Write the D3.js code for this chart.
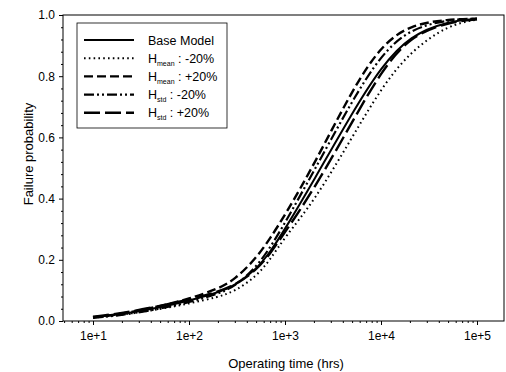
<!DOCTYPE html>
<html>
<head>
<meta charset="utf-8">
<script src="https://cdn.jsdelivr.net/npm/d3@7"></script>
<style>
body { margin: 0; background: #fff; }
svg { display: block; font-family: "Liberation Sans", Arial, sans-serif; }
</style>
</head>
<body>
<svg id="chart"></svg>
<script>
// operating time (hrs) sample points
var times = [10, 20, 50, 100, 200, 300, 500, 700, 1000, 2000, 5000, 10000, 20000, 50000, 100000];

var baseModel  = [0.012, 0.022, 0.044, 0.066, 0.093, 0.115, 0.168, 0.225, 0.300, 0.460, 0.680, 0.830, 0.933, 0.980, 0.986];
var hMeanMinus = [0.011, 0.020, 0.039, 0.057, 0.078, 0.097, 0.145, 0.200, 0.275, 0.390, 0.600, 0.760, 0.880, 0.968, 0.985];
var hMeanPlus  = [0.012, 0.023, 0.048, 0.072, 0.105, 0.135, 0.205, 0.270, 0.346, 0.510, 0.755, 0.900, 0.968, 0.986, 0.988];
var hStdMinus  = [0.010, 0.019, 0.040, 0.061, 0.088, 0.113, 0.175, 0.240, 0.320, 0.490, 0.720, 0.870, 0.955, 0.985, 0.988];
var hStdPlus   = [0.014, 0.025, 0.049, 0.070, 0.095, 0.117, 0.165, 0.220, 0.290, 0.430, 0.650, 0.815, 0.930, 0.977, 0.986];

var xTickValues = [10, 100, 1000, 10000, 100000];
var xTickLabels = ["1e+1", "1e+2", "1e+3", "1e+4", "1e+5"];
var yTickValues = [0, 0.2, 0.4, 0.6, 0.8, 1.0];
var yTickLabels = ["0.0", "0.2", "0.4", "0.6", "0.8", "1.0"];

var series = [
    { name: "Base Model", sub: null, suffix: null, values: baseModel, dash: null, width: 2 },
    { name: "H", sub: "mean", suffix: " : -20%", values: hMeanMinus, dash: "1.6,3.2", width: 2 },
    { name: "H", sub: "mean", suffix: " : +20%", values: hMeanPlus, dash: "9,4", width: 2.4 },
    { name: "H", sub: "std", suffix: " : -20%", values: hStdMinus, dash: "10,3,2,3,2,3", width: 2.2 },
    { name: "H", sub: "std", suffix: " : +20%", values: hStdPlus, dash: "16,5", width: 2.4 }
];

var svg = d3.select("#chart")
    .attr("width", 506)
    .attr("height", 372);

var plotLeft = 63, plotRight = 504, plotTop = 15, plotBottom = 321;

var xScale = d3.scaleLog()
    .domain([Math.pow(10, 0.6875), Math.pow(10, 5.28125)])
    .range([plotLeft, plotRight]);
var yScale = d3.scaleLinear().domain([0, 1]).range([plotBottom, plotTop]);

// frame
svg.append("rect")
    .attr("x", plotLeft).attr("y", plotTop)
    .attr("width", plotRight - plotLeft).attr("height", plotBottom - plotTop)
    .attr("fill", "none").attr("stroke", "#000").attr("stroke-width", 1);

// minor x ticks (log 2..9)
var xMinor = [];
[1, 10, 100, 1000, 10000, 100000].forEach(function(d) {
    for (var k = 2; k <= 9; k++) {
        var v = d * k;
        if (v > xScale.domain()[0] && v < xScale.domain()[1]) xMinor.push(v);
    }
});

var xAxis = svg.append("g")
    .attr("transform", "translate(0," + plotBottom + ")")
    .call(d3.axisBottom(xScale).tickValues(xTickValues)
        .tickFormat(function(d, i) { return xTickLabels[i]; })
        .tickSize(4).tickPadding(6));
xAxis.select(".domain").remove();

svg.append("g")
    .attr("transform", "translate(0," + plotBottom + ")")
    .call(d3.axisBottom(xScale).tickValues(xMinor).tickFormat("").tickSize(2))
    .select(".domain").remove();

var yMinor = d3.range(0, 1.0001, 0.04).filter(function(v) {
    return Math.abs(v * 5 - Math.round(v * 5)) > 1e-6;
});

var yAxis = svg.append("g")
    .attr("transform", "translate(" + plotLeft + ",0)")
    .call(d3.axisLeft(yScale).tickValues(yTickValues)
        .tickFormat(function(d, i) { return yTickLabels[i]; })
        .tickSize(4).tickPadding(4));
yAxis.select(".domain").remove();

svg.append("g")
    .attr("transform", "translate(" + plotLeft + ",0)")
    .call(d3.axisLeft(yScale).tickValues(yMinor).tickFormat("").tickSize(2))
    .select(".domain").remove();

svg.selectAll(".tick text")
    .attr("font-size", 12)
    .attr("font-family", "Liberation Sans, Arial, sans-serif")
    .attr("fill", "#000");
svg.selectAll(".tick line").attr("stroke", "#000");

// axis titles
svg.append("text")
    .attr("x", 286).attr("y", 368)
    .attr("text-anchor", "middle")
    .attr("font-size", 13)
    .text("Operating time (hrs)");

svg.append("text")
    .attr("transform", "translate(33,154) rotate(-90)")
    .attr("text-anchor", "middle")
    .attr("font-size", 13)
    .text("Failure probability");

// curves
var line = d3.line()
    .x(function(d) { return xScale(d[0]); })
    .y(function(d) { return yScale(d[1]); })
    .curve(d3.curveBasis);

series.forEach(function(s) {
    svg.append("path")
        .datum(times.map(function(t, i) { return [t, s.values[i]]; }))
        .attr("d", line)
        .attr("fill", "none")
        .attr("stroke", "#000")
        .attr("stroke-width", s.width)
        .attr("stroke-dasharray", s.dash);
});

// legend
var legend = svg.append("g");
legend.append("rect")
    .attr("x", 77).attr("y", 23)
    .attr("width", 150).attr("height", 105)
    .attr("fill", "#fff").attr("stroke", "#000").attr("stroke-width", 0.8);

series.forEach(function(s, i) {
    var cy = 40 + i * 18.2;
    legend.append("line")
        .attr("x1", 84).attr("x2", 134)
        .attr("y1", cy).attr("y2", cy)
        .attr("stroke", "#000")
        .attr("stroke-width", s.width)
        .attr("stroke-dasharray", s.dash);
    var t = legend.append("text")
        .attr("x", 148).attr("y", cy + 4.5)
        .attr("font-size", 12.5);
    t.append("tspan").text(s.name);
    if (s.sub) {
        t.append("tspan").attr("font-size", 7).attr("dy", 3).text(s.sub);
        t.append("tspan").attr("dy", -3).text(s.suffix);
    }
});
</script>
</body>
</html>
